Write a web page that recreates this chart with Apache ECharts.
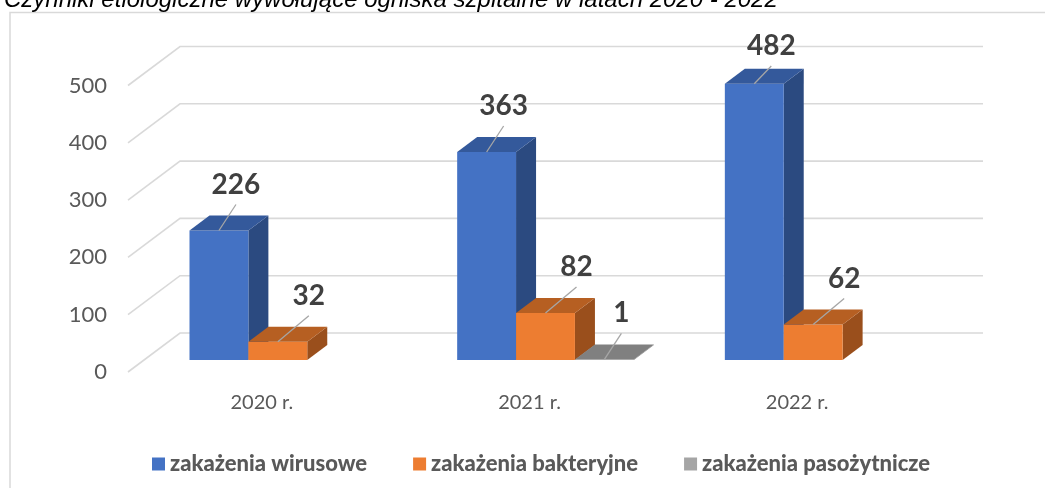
<!DOCTYPE html>
<html>
<head>
<meta charset="utf-8">
<script src="https://cdn.jsdelivr.net/npm/echarts@6/dist/echarts.min.js"></script>
<style>
  html, body { margin: 0; padding: 0; background: #ffffff; }
  #chart { width: 1045px; height: 488px; }
</style>
</head>
<body>
<div id="chart"></div>
<script>
// Hospital outbreak aetiology, 2020–2022
const categories = ['2020 r.', '2021 r.', '2022 r.'];
const viralCases = [226, 363, 482];
const bacterialCases = [32, 82, 62];
const parasiticCases = [null, 1, null];
const valueTicks = [0, 100, 200, 300, 400, 500];
const seriesNames = ['zakażenia wirusowe', 'zakażenia bakteryjne', 'zakażenia pasożytnicze'];
const titleText = 'Czynniki etiologiczne wywołujące ogniska szpitalne w latach 2020 - 2022';

// Oblique-projection offsets (pixels) used to fake the 3D box look
const BAR_SHIFT = [16, -12];   // floor front edge -> bar front plane
const BAR_DEPTH = [20, -15];   // bar front plane -> bar back plane
const WALL_SHIFT = [52, -39];  // floor front edge -> back wall
const BAR_RATIO = 0.22;        // bar width as a share of the category band

const FONT = 'Lato, "Open Sans", sans-serif';

const palettes = [
  { front: '#4472C4', top: '#34599B', side: '#2B4A80', labelDx: 17 },
  { front: '#ED7D31', top: '#B65F22', side: '#9A4F1C', labelDx: 31 },
  { front: '#A5A5A5', top: '#808080', side: '#6E6E6E', labelDx: 17 }
];

function toPairs(values) {
  return values.map((v, i) => [i, v]);
}

// Draws one series as boxes: side face, front face, top face, plus leader line and value label
function boxRenderer(seriesIndex) {
  const pal = palettes[seriesIndex];
  return function (params, api) {
    const v = api.value(1);
    if (v == null || isNaN(v)) return;
    const cat = api.value(0);
    const base = api.coord([cat, 0]);
    const tip = api.coord([cat, v]);
    const band = api.size([1, 0])[0];
    const w = band * BAR_RATIO;
    const cx = base[0] + (seriesIndex - 1) * w + BAR_SHIFT[0];
    const xl = cx - w / 2, xr = cx + w / 2;
    const yb = base[1] + BAR_SHIFT[1];
    const yt = tip[1] + BAR_SHIFT[1];
    const dx = BAR_DEPTH[0], dy = BAR_DEPTH[1];
    const ly = Math.max(yt - 46, 46);
    const lx = cx + pal.labelDx;
    return {
      type: 'group',
      children: [
        { type: 'polygon', shape: { points: [[xr, yt], [xr + dx, yt + dy], [xr + dx, yb + dy], [xr, yb]] },
          style: { fill: pal.side } },
        { type: 'rect', shape: { x: xl, y: yt, width: w, height: Math.max(yb - yt, 0) },
          style: { fill: pal.front } },
        { type: 'polygon', shape: { points: [[xl, yt], [xr, yt], [xr + dx, yt + dy], [xl + dx, yt + dy]] },
          style: { fill: pal.top } },
        { type: 'line', shape: { x1: lx, y1: ly + 20, x2: cx, y2: yt },
          style: { stroke: '#A6A6A6', lineWidth: 1.3 } },
        { type: 'text', x: lx, y: ly,
          style: { text: String(v), fill: '#404040', font: 'bold 28px ' + FONT, align: 'center', verticalAlign: 'middle' } }
      ]
    };
  };
}

// Gridlines: short oblique segment on the floor side, then a horizontal line on the back wall
function gridRenderer(params, api) {
  const v = api.value(0);
  const p = api.coord([0, v]);
  const cs = params.coordSys;
  const x0 = cs.x, y0 = p[1];
  const xw = x0 + WALL_SHIFT[0], yw = y0 + WALL_SHIFT[1];
  return {
    type: 'polyline',
    shape: { points: [[x0, y0], [xw, yw], [xw + cs.width, yw]] },
    style: { stroke: '#D9D9D9', lineWidth: 1.6, fill: null }
  };
}

const chart = echarts.init(document.getElementById('chart'));

const seriesData = [viralCases, bacterialCases, parasiticCases];

chart.setOption({
  backgroundColor: '#ffffff',
  animation: false,
  graphic: [
    { type: 'polyline', shape: { points: [[10, 488], [10, 12.5], [1045, 12.5]] },
      style: { stroke: '#D9D9D9', lineWidth: 1.5, fill: null }, z: 0 },
    { type: 'text', x: 4, y: 12,
      style: { text: titleText, font: 'italic 24px "Liberation Sans", Arial, sans-serif', fill: '#000000', verticalAlign: 'bottom' } }
  ],
  grid: { left: 128, right: 114, top: 85.5, bottom: 116, outerBoundsMode: 'none' },
  legend: {
    data: seriesNames,
    left: 147,
    top: 448,
    icon: 'rect',
    itemWidth: 13,
    itemHeight: 13,
    itemGap: 46,
    textStyle: { color: '#595959', fontFamily: FONT, fontWeight: 900, fontSize: 22 }
  },
  xAxis: {
    type: 'category',
    data: categories,
    axisLine: { show: false },
    axisTick: { show: false },
    axisLabel: { color: '#595959', fontFamily: FONT, fontSize: 20, margin: 21 }
  },
  yAxis: {
    type: 'value',
    min: 0,
    max: 500,
    interval: 100,
    axisLine: { show: false },
    axisTick: { show: false },
    splitLine: { show: false },
    axisLabel: { color: '#595959', fontFamily: FONT, fontSize: 22, margin: 21 }
  },
  series: [
    {
      type: 'custom',
      name: 'grid',
      silent: true,
      z: 1,
      renderItem: gridRenderer,
      data: valueTicks.map(v => [v]),
      encode: { y: 0 }
    }
  ].concat(seriesNames.map((name, i) => ({
    type: 'custom',
    name: name,
    z: 2,
    itemStyle: { color: palettes[i].front },
    renderItem: boxRenderer(i),
    data: toPairs(seriesData[i]),
    encode: { x: 0, y: 1 }
  })))
});
</script>
</body>
</html>
